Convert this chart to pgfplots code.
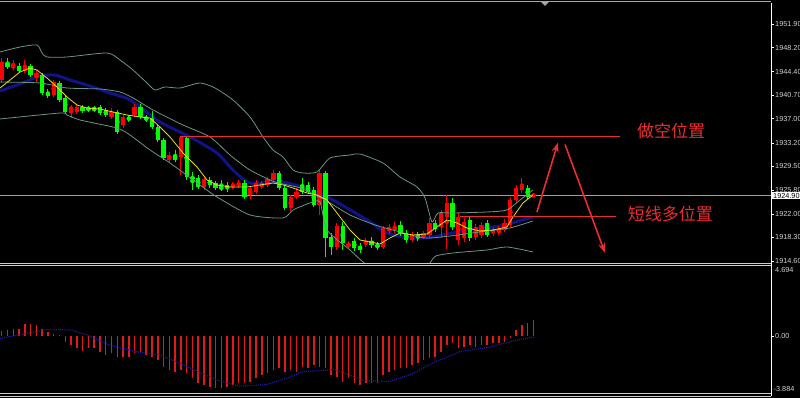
\documentclass[border=0pt]{standalone}
\usepackage{pgfplots}
\pgfplotsset{compat=1.18}
\usepackage{pgfplotstable}
\usepackage{fontspec}
\setmainfont{Liberation Sans}
\newfontfamily\cjk{Noto Sans CJK SC}
\usetikzlibrary{arrows.meta}

\definecolor{bb}{RGB}{105,150,130}
\definecolor{candR}{RGB}{255,0,0}
\definecolor{candG}{RGB}{0,255,0}
\definecolor{ma}{RGB}{20,20,150}
\definecolor{yl}{RGB}{225,225,40}
\definecolor{lbl}{RGB}{210,210,210}
\definecolor{ann}{RGB}{235,45,45}
\definecolor{macdR}{RGB}{225,25,25}
\definecolor{sig}{RGB}{30,30,170}

\pgfplotstableread{
i o h l c
0 1943.09 1946.55 1942.62 1945.92
2 1944.98 1946.24 1944.66 1945.45
4 1944.50 1946.24 1944.19 1945.29
6 1943.56 1944.66 1942.77 1944.19
9 1940.73 1943.09 1940.41 1942.77
12 1938.37 1939.15 1937.11 1938.84
13 1938.05 1939.15 1937.74 1938.84
19 1937.26 1938.68 1936.95 1938.05
21 1936.00 1937.58 1935.53 1937.26
23 1937.58 1939.31 1937.26 1938.84
29 1930.50 1931.76 1930.02 1931.28
31 1930.97 1934.27 1928.13 1934.12
35 1926.25 1927.82 1925.77 1927.50
40 1926.25 1927.03 1925.93 1926.72
41 1926.40 1927.35 1926.09 1926.88
43 1924.99 1926.40 1924.36 1926.09
44 1925.46 1927.35 1925.14 1926.88
45 1926.25 1927.19 1925.93 1926.88
46 1926.56 1927.82 1926.25 1927.50
47 1927.35 1928.92 1927.03 1928.45
50 1922.94 1924.99 1922.47 1924.67
51 1924.67 1926.09 1924.36 1925.46
55 1923.41 1928.92 1921.84 1928.45
58 1916.80 1920.58 1916.33 1920.11
60 1917.05 1917.75 1916.50 1917.25
63 1917.27 1918.22 1916.80 1917.75
66 1916.80 1920.11 1916.49 1919.80
67 1919.32 1920.43 1918.85 1919.95
68 1919.48 1920.74 1919.01 1919.95
71 1917.90 1919.17 1917.59 1918.69
73 1918.38 1919.32 1918.06 1919.01
74 1918.69 1921.37 1918.22 1920.58
76 1919.95 1922.63 1918.20 1922.15
77 1921.52 1924.99 1916.50 1923.73
79 1917.90 1922.15 1917.12 1921.52
80 1918.22 1921.37 1917.59 1920.74
82 1918.38 1920.43 1917.90 1919.95
83 1918.69 1920.74 1918.22 1920.27
85 1919.01 1919.95 1918.53 1919.48
86 1919.01 1920.11 1918.69 1919.64
87 1919.48 1921.21 1919.17 1920.58
88 1920.27 1924.67 1919.95 1924.20
89 1924.20 1926.56 1923.73 1926.09
90 1925.77 1927.66 1925.30 1926.56
92 1924.85 1925.20 1924.60 1925.00
}\upC

\pgfplotstableread{
i o h l c
1 1945.76 1946.55 1944.82 1945.13
3 1945.29 1945.76 1944.19 1944.50
5 1945.29 1945.60 1943.56 1943.87
7 1943.87 1944.19 1940.73 1941.04
8 1941.20 1941.67 1940.26 1940.57
10 1942.62 1942.93 1939.63 1939.94
11 1940.26 1940.57 1937.74 1938.05
14 1938.84 1939.15 1937.89 1938.21
15 1938.60 1939.00 1938.10 1938.45
16 1938.68 1939.00 1938.05 1938.37
17 1938.84 1939.15 1937.58 1937.89
18 1938.37 1938.68 1937.26 1937.58
20 1938.05 1938.37 1934.59 1934.90
22 1937.26 1937.58 1936.48 1936.79
24 1938.84 1939.31 1936.95 1937.26
25 1937.26 1937.58 1936.48 1936.79
26 1936.95 1938.21 1935.38 1935.69
27 1935.69 1936.00 1933.33 1933.64
28 1933.64 1933.96 1930.50 1930.81
30 1931.28 1932.07 1930.18 1930.50
32 1933.96 1934.27 1927.35 1927.82
33 1927.82 1928.61 1925.77 1927.50
34 1927.66 1928.13 1925.93 1926.25
36 1927.35 1927.82 1926.09 1926.56
37 1926.88 1927.19 1925.77 1926.09
38 1926.25 1927.35 1925.62 1925.93
39 1926.30 1927.03 1925.46 1926.15
42 1926.88 1927.35 1924.36 1924.67
48 1928.45 1928.76 1925.77 1926.09
49 1926.09 1926.40 1922.63 1922.94
52 1926.56 1927.66 1925.14 1925.46
53 1926.56 1927.03 1925.14 1925.46
54 1925.77 1926.25 1923.10 1923.41
56 1928.45 1928.76 1915.23 1918.22
57 1918.38 1919.01 1915.54 1916.80
59 1920.11 1920.74 1916.33 1917.43
61 1917.75 1918.22 1916.17 1916.64
62 1916.96 1917.43 1915.86 1916.33
64 1917.75 1918.38 1916.64 1917.12
65 1917.12 1917.59 1916.33 1916.80
69 1920.27 1920.90 1918.53 1919.01
70 1919.01 1919.48 1917.43 1917.90
72 1918.69 1919.17 1917.75 1918.22
75 1920.58 1921.05 1919.17 1919.64
78 1923.73 1924.52 1919.48 1919.95
81 1921.05 1921.68 1917.75 1918.22
84 1920.58 1921.05 1918.38 1918.69
91 1926.09 1926.56 1924.36 1924.67
}\dnC

\pgfplotstableread{
i v
0 0.35
1 0.40
2 0.50
3 0.50
4 0.77
5 0.77
6 0.73
7 0.50
8 0.25
9 0.15
10 0.05
11 -0.37
12 -0.59
13 -0.75
14 -0.97
15 -0.81
16 -0.75
17 -1.03
18 -1.25
19 -1.14
20 -1.36
21 -1.36
22 -1.36
23 -1.10
24 -1.03
25 -1.25
26 -1.36
27 -1.58
28 -2.02
29 -2.24
30 -2.35
31 -2.24
32 -2.46
33 -2.79
34 -3.12
35 -3.23
36 -3.34
37 -3.45
38 -3.45
39 -3.34
40 -3.23
41 -3.12
42 -3.12
43 -3.01
44 -2.79
45 -2.57
46 -2.46
47 -2.24
48 -2.13
49 -2.35
50 -2.24
51 -2.35
52 -2.02
53 -2.13
54 -1.91
55 -2.02
56 -2.13
57 -2.57
58 -2.68
59 -3.01
60 -2.79
61 -3.12
62 -3.23
63 -3.12
64 -3.12
65 -3.12
66 -2.57
67 -2.35
68 -2.24
69 -2.13
70 -2.13
71 -1.91
72 -1.80
73 -1.58
74 -1.47
75 -1.36
76 -1.03
77 -0.60
78 -0.48
79 -0.81
80 -0.70
81 -0.60
82 -0.70
83 -0.60
84 -0.60
85 -0.48
86 -0.48
87 -0.37
88 -0.15
89 0.40
90 0.73
91 0.88
92 1.06
}\macd

\begin{document}
\begin{tikzpicture}
\fill[black] (0,0) rectangle (800pt,398pt);

% ---------- main price panel ----------
\begin{axis}[
  at={(0pt,135pt)}, anchor=south west, scale only axis,
  width=771pt, height=260pt,
  xmin=-0.294, xmax=133.1, ymin=1914.28, ymax=1955.21,
  axis lines=none, clip mode=individual,
]
% current price line
\addplot[color=gray!75, line width=0.7pt] coordinates {(-0.294,1924.90) (133.1,1924.90)};
% moving average (thick blue)
\addplot[ma, line width=3pt, smooth, tension=0.4, opacity=0.9] coordinates {
(-0.29,1941.36) (3.17,1942.46) (6.63,1943.72) (9.22,1943.87) (11.82,1943.09) (15.28,1942.14) (18.74,1941.04) (22.2,1939.94) (27.39,1936.48) (32.58,1934.12) (37.25,1931.60) (40.02,1928.92) (42.96,1926.88) (48.67,1927.03) (53.34,1925.77) (57.32,1924.20) (63.2,1921.05) (66.66,1919.01) (70.64,1918.22) (74.62,1918.38) (80.5,1919.48) (86.21,1920.11) (91.92,1921.52)};
% candles: wicks
\addplot[candR, only marks, mark=none, error bars/.cd, y dir=both, y explicit, error mark=none,
  error bar style={line width=0.9pt, draw=candR}]
  table[x=i, y expr={(\thisrow{h}+\thisrow{l})/2}, y error expr={(\thisrow{h}-\thisrow{l})/2}] {\upC};
\addplot[candG, only marks, mark=none, error bars/.cd, y dir=both, y explicit, error mark=none,
  error bar style={line width=0.9pt, draw=candG}]
  table[x=i, y expr={(\thisrow{h}+\thisrow{l})/2}, y error expr={(\thisrow{h}-\thisrow{l})/2}] {\dnC};
% candles: bodies
\addplot[candR, only marks, mark=none, error bars/.cd, y dir=both, y explicit, error mark=none,
  error bar style={line width=4.3pt, draw=candR}]
  table[x=i, y expr={(\thisrow{o}+\thisrow{c})/2}, y error expr={max(abs(\thisrow{c}-\thisrow{o})/2,0.09)}] {\upC};
\addplot[candG, only marks, mark=none, error bars/.cd, y dir=both, y explicit, error mark=none,
  error bar style={line width=4.3pt, draw=candG}]
  table[x=i, y expr={(\thisrow{o}+\thisrow{c})/2}, y error expr={max(abs(\thisrow{c}-\thisrow{o})/2,0.09)}] {\dnC};
% Bollinger bands
\addplot[bb, line width=0.8pt, smooth, tension=0.4] coordinates {
(-0.29,1947.50) (3.17,1948.28) (6.1,1948.60) (6.97,1947.34) (7.84,1946.71) (11.3,1946.71) (18.22,1947.34) (20.47,1946.24) (22.72,1944.66) (25.14,1942.62) (26.52,1941.51) (28.25,1941.99) (30.85,1941.83) (34.31,1942.62) (36.9,1941.83) (40.02,1939.94) (42.96,1937.26) (45.21,1934.12) (46.94,1932.07) (48.67,1930.97) (50.4,1928.92) (52.13,1928.45) (54.55,1928.61) (56.8,1930.81) (60.26,1931.28) (61.99,1931.44) (65.97,1930.02) (68.91,1927.82) (71.85,1926.25) (73.24,1924.52) (74.45,1920.74) (75.48,1922.15) (78.08,1922.15) (83.96,1922.31) (87.42,1922.63) (89.67,1924.20) (91.92,1925.77)};
\addplot[bb, line width=0.8pt, smooth, tension=0.4] coordinates {
(-0.29,1942.77) (6.63,1942.62) (11.3,1941.83) (17.0,1941.67) (20.47,1941.20) (22.72,1940.26) (26.18,1938.37) (31.37,1936.00) (36.04,1934.12) (39.5,1931.28) (42.96,1928.92) (47.3,1927.03) (51.61,1926.09) (55.93,1924.20) (60.26,1921.84) (64.59,1920.27) (68.91,1919.17) (73.24,1918.22) (77.56,1918.53) (82.75,1919.17) (87.94,1919.80) (91.92,1920.90)};
\addplot[bb, line width=0.8pt, smooth, tension=0.4] coordinates {
(-0.29,1936.95) (10.09,1937.89) (11.3,1937.58) (13.55,1936.79) (19.95,1935.53) (22.2,1934.43) (25.66,1932.07) (29.12,1930.02) (34.31,1926.56) (37.25,1924.67) (42.96,1921.84) (48.67,1921.37) (50.4,1922.63) (53.34,1923.73) (55.07,1923.89) (56.28,1919.48) (60.26,1916.33) (62.51,1914.44) (65.45,1912.4) (68.91,1911.3) (72.37,1911.9) (74.1,1914.28) (75.14,1915.39) (78.08,1915.86) (83.96,1916.33) (87.42,1916.80) (91.92,1916.01)};
% fast MA (yellow)
\addplot[yl, line width=0.8pt] coordinates {
(-0.29,1941.83) (1.44,1943.09) (3.17,1944.35) (4.9,1944.98) (6.1,1944.66) (7.84,1943.40) (9.57,1941.99) (11.3,1940.41) (13.03,1939.15) (14.76,1938.68) (17.0,1938.52) (19.26,1938.05) (21.68,1937.58) (23.93,1937.26) (25.66,1937.11) (27.39,1935.69) (29.12,1934.12) (31.37,1931.60) (33.79,1929.39) (35.52,1927.35) (37.25,1926.56) (39.5,1926.25) (42.44,1926.25) (44.69,1926.56) (46.94,1926.88) (48.67,1926.56) (50.4,1926.09) (52.82,1925.30) (54.55,1924.99) (56.28,1924.20) (58.01,1922.15) (60.26,1919.48) (61.99,1917.90) (63.72,1917.59) (65.45,1917.27) (67.18,1918.22) (68.91,1919.01) (71.16,1918.69) (73.58,1918.85) (75.31,1919.95) (77.04,1921.05) (78.77,1920.58) (80.5,1919.80) (82.75,1919.32) (85.0,1919.48) (87.42,1919.95) (88.46,1921.52) (90.19,1923.73) (91.92,1924.99)};
% annotation lines
\addplot[ann, line width=1.3pt] coordinates {(30.9,1934.14) (107.0,1934.14)};
\addplot[ann, line width=1.3pt] coordinates {(79.3,1921.57) (106.3,1921.57)};
\addplot[ann, line width=1.6pt, -{Stealth[length=10pt,width=7pt]}] coordinates {(92.6,1922.3) (96.25,1933.25)};
\addplot[ann, line width=1.6pt, -{Stealth[length=10pt,width=7pt]}] coordinates {(97.46,1932.94) (104.38,1915.86)};
\node[text=ann, font=\cjk\fontsize{17}{17}\selectfont] at (axis cs:115.8,1935.06) {做空位置};
\node[text=ann, font=\cjk\fontsize{17}{17}\selectfont] at (axis cs:115.7,1921.92) {短线多位置};
% right price scale
\pgfplotsinvokeforeach{1914.60,1918.30,1922.00,1925.80,1929.50,1933.20,1937.00,1940.70,1944.40,1948.20,1951.90}{
  \draw[white, line width=0.6pt] (axis cs:133.1,#1) -- ++(3pt,0pt);
  \node[anchor=west, inner sep=0pt, text=lbl, font=\fontsize{7.3}{8}\selectfont] at ([xshift=4pt]axis cs:133.1,#1) {#1};
}
\node[anchor=west, inner sep=0.8pt, fill=white, text=black, minimum width=28pt, font=\fontsize{7.3}{8}\selectfont] at ([xshift=1.2pt]axis cs:133.1,1924.90) {1924.90};
\end{axis}

% ---------- MACD panel ----------
\begin{axis}[
  at={(0pt,3pt)}, anchor=south west, scale only axis,
  width=771pt, height=130pt,
  xmin=-0.294, xmax=133.1, ymin=-3.884, ymax=4.694,
  axis lines=none, clip mode=individual,
]
\addplot[ycomb, macdR, line width=1.5pt, mark=none] table[x=i, y=v] {\macd};
\addplot[sig, line width=1.1pt, densely dotted] coordinates {
(-0.3,-0.15) (4,0.15) (8,0.45) (12,0.4) (15,0.05) (18.7,-0.6) (22.8,-1.0) (27.4,-1.25) (29.7,-1.6) (34.3,-2.4) (37.2,-2.9) (41.2,-3.3) (45.8,-3.2) (49.9,-2.7) (52,-2.35) (57.7,-2.2) (62.3,-2.9) (67,-3.0) (71,-2.5) (74.9,-1.7) (79.5,-1.0) (84.1,-0.75) (88.7,-0.3) (92.2,-0.05)};
\draw[white, line width=0.6pt] (axis cs:133.1,0) -- ++(3pt,0pt);
\node[anchor=west, inner sep=0pt, text=lbl, font=\fontsize{7.3}{8}\selectfont] at ([xshift=4pt]axis cs:133.1,0) {0.00};
\node[anchor=west, inner sep=0pt, text=lbl, font=\fontsize{7.3}{8}\selectfont] at ([xshift=4pt,yshift=-5pt]axis cs:133.1,4.694) {4.694};
\node[anchor=west, inner sep=0pt, text=lbl, font=\fontsize{7.3}{8}\selectfont] at ([xshift=2.5pt,yshift=6pt]axis cs:133.1,-3.884) {-3.884};
\end{axis}

% ---------- frame ----------
\draw[gray!70, line width=1pt] (0,396pt) -- (771pt,396pt);
\fill[gray!70] (541pt,396pt) -- (549pt,396pt) -- (545pt,392pt) -- cycle;
\draw[white, line width=0.9pt] (771pt,395pt) -- (771pt,2pt);
\draw[gray!40, line width=1pt] (0,134.7pt) -- (771pt,134.7pt);
\draw[gray!40, line width=1pt] (0,132.7pt) -- (771pt,132.7pt);
\draw[gray!40, line width=1pt] (0,4.5pt) -- (771pt,4.5pt);
\draw[gray!40, line width=1pt] (0,1.5pt) -- (771pt,1.5pt);

\pgfresetboundingbox
\path[use as bounding box] (0,0) rectangle (800pt,398pt);
\end{tikzpicture}
\end{document}
